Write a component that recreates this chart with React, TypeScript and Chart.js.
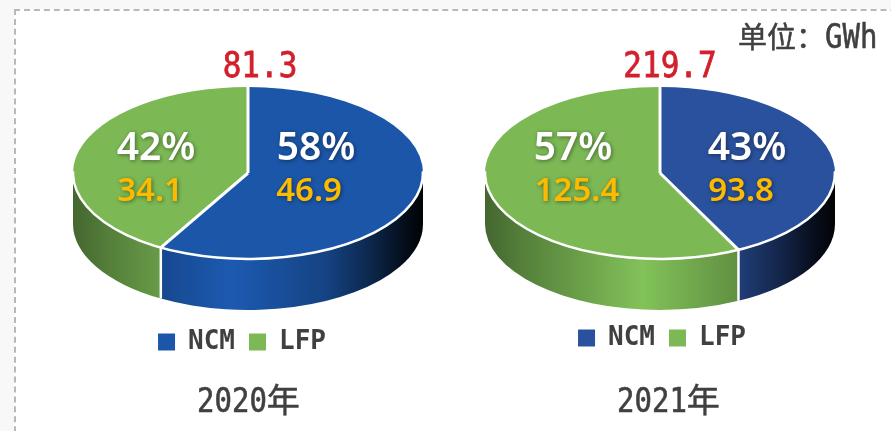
import React, { useEffect, useRef } from "react";
import { Chart, registerables } from "chart.js";

Chart.register(...registerables);

const categories = ["NCM", "LFP"];
const values2020 = [46.9, 34.1];
const values2021 = [93.8, 125.4];
const sliceShares2020 = [58.3, 41.7];
const sliceShares2021 = [42.6, 57.4];
const percents2020 = ["58%", "42%"];
const percents2021 = ["43%", "57%"];
const total2020 = "81.3";
const total2021 = "219.7";
const year2020 = "2020年";
const year2021 = "2021年";
const unitText = "单位：GWh";

const GREEN = "#7cb955";
const LATIN = '"DejaVu Sans Mono"';
const CJK = '"Noto Sans CJK SC"';
const TEXT = "#404040";
const SHADES: [number, number][] = [[0, 0.55], [0.1, 0.68], [0.45, 1.05], [0.72, 0.78], [0.85, 0.45], [0.95, 0.15], [1, 0.04]];

function shade(hex: string, k: number) {
  const n = parseInt(hex.slice(1), 16);
  const c = (v: number) => Math.min(255, Math.round(v * k));
  return `rgb(${c((n >> 16) & 255)},${c((n >> 8) & 255)},${c(n & 255)})`;
}

function drawLatin(ctx: CanvasRenderingContext2D, text: string, x: number, y: number, px: number, color: string, weight: number) {
  ctx.save();
  ctx.translate(x, y);
  ctx.scale(1, 1.14);
  ctx.font = `${px}px ${LATIN}`;
  ctx.fillStyle = color;
  ctx.strokeStyle = color;
  ctx.lineWidth = weight;
  ctx.fillText(text, 0, 0);
  ctx.strokeText(text, 0, 0);
  ctx.restore();
}

function drawRuns(ctx: CanvasRenderingContext2D, text: string, x: number, y: number, latinPx: number, cjkPx: number, color: string) {
  const runs = text.match(/[\u3000-\uffef]+|[^\u3000-\uffef]+/g) || [];
  ctx.textAlign = "left";
  ctx.textBaseline = "alphabetic";
  let px = x;
  for (const r of runs) {
    const isCjk = /[\u3000-\uffef]/.test(r);
    ctx.font = isCjk ? `${cjkPx}px ${CJK}` : `${latinPx}px ${LATIN}`;
    const w = ctx.measureText(r).width;
    if (isCjk) {
      ctx.fillStyle = color;
      ctx.strokeStyle = color;
      ctx.lineWidth = 0.5;
      ctx.fillText(r, px, y);
      ctx.strokeText(r, px, y);
    } else {
      drawLatin(ctx, r, px, y, latinPx, color, 0.5);
    }
    px += w;
  }
}

function Panel({ cfg }: { cfg: any }) {
  const ref = useRef<HTMLCanvasElement>(null);
  useEffect(() => {
    const { cx, cy, rx, ry, depth } = cfg.pie;
    const plugin = {
      id: "pie3d",
      beforeDatasetsDraw(chart: any) {
        const ctx = chart.ctx;
        const arcs = chart.getDatasetMeta(0).data;
        arcs.forEach((a: any, i: number) => {
          const segs: [number, number][] = [[a.startAngle, a.endAngle], [a.startAngle - Math.PI * 2, a.endAngle - Math.PI * 2]];
          for (const [s, e] of segs) {
            const from = Math.max(s, 0);
            const to = Math.min(e, Math.PI);
            if (to <= from) continue;
            const g = ctx.createLinearGradient(cx - rx, 0, cx + rx, 0);
            SHADES.forEach(([p, k]) => g.addColorStop(p, shade(cfg.colors[i], k)));
            ctx.beginPath();
            ctx.ellipse(cx, cy, rx, ry, 0, from, to);
            ctx.ellipse(cx, cy + depth, rx, ry, 0, to, from, true);
            ctx.closePath();
            ctx.fillStyle = g;
            ctx.fill();
          }
        });
        const a = arcs[0];
        ctx.save();
        ctx.translate(cx, cy);
        ctx.scale(rx / a.outerRadius, ry / a.outerRadius);
        ctx.translate(-a.x, -a.y);
      },
      afterDatasetsDraw(chart: any) {
        const ctx = chart.ctx;
        ctx.restore();
        const arcs = chart.getDatasetMeta(0).data;
        ctx.strokeStyle = "#ffffff";
        ctx.lineWidth = 2.5;
        ctx.beginPath();
        ctx.ellipse(cx, cy, rx, ry, 0, -0.02, Math.PI + 0.02);
        ctx.stroke();
        ctx.lineWidth = 3;
        arcs.forEach((a: any) => {
          const px = cx + rx * Math.cos(a.startAngle);
          const py = cy + ry * Math.sin(a.startAngle);
          ctx.beginPath();
          ctx.moveTo(cx, cy);
          ctx.lineTo(px, py);
          ctx.stroke();
          if (Math.sin(a.startAngle) > 0) {
            ctx.lineWidth = 2.5;
            ctx.beginPath();
            ctx.moveTo(px, py);
            ctx.lineTo(px, py + depth);
            ctx.stroke();
            ctx.lineWidth = 3;
          }
        });
        cfg.percents.forEach((p: string, i: number) => {
          const [px, vx] = cfg.labelX[i];
          ctx.save();
          ctx.shadowColor = "rgba(0,0,0,0.45)";
          ctx.shadowBlur = 4;
          ctx.shadowOffsetX = 1;
          ctx.shadowOffsetY = 1;
          ctx.textAlign = "center";
          ctx.textBaseline = "alphabetic";
          ctx.font = '600 39px "Noto Sans"';
          ctx.fillStyle = "#ffffff";
          ctx.fillText(p, px, 160);
          ctx.font = '600 33px "Noto Sans"';
          ctx.fillStyle = "#fdbb00";
          ctx.fillText(String(cfg.values[i]), vx, 201);
          ctx.restore();
        });
        ctx.save();
        ctx.textAlign = "left";
        ctx.textBaseline = "alphabetic";
        ctx.font = `31px ${LATIN}`;
        const tw = ctx.measureText(cfg.total).width;
        drawLatin(ctx, cfg.total, cfg.totalX - tw / 2, 77, 31, "#d2202c", 0.7);
        drawRuns(ctx, cfg.year, cfg.yearX, 412, 29, 33, TEXT);
        if (cfg.unitX) drawRuns(ctx, unitText, cfg.unitX, 48, 29, 29, TEXT);
        ctx.restore();
      },
    };
    const chart = new Chart(ref.current as HTMLCanvasElement, {
      type: "pie",
      data: {
        labels: categories,
        datasets: [{ data: cfg.shares, backgroundColor: cfg.colors, borderWidth: 0, clip: false } as any],
      },
      options: {
        responsive: false,
        animation: false,
        rotation: 0,
        layout: { padding: { bottom: cfg.legendBottom } },
        plugins: {
          tooltip: { enabled: false },
          title: { display: false },
          legend: {
            position: "bottom",
            labels: {
              boxWidth: 17,
              boxHeight: 17,
              padding: 14,
              color: TEXT,
              font: { family: LATIN, size: 26, weight: "bold" },
            },
          },
        },
      } as any,
      plugins: [plugin],
    });
    return () => chart.destroy();
  }, []);
  return (
    <canvas
      ref={ref}
      width={cfg.width}
      height={431}
      style={{ position: "absolute", left: cfg.left, top: 0, width: cfg.width, height: 431 }}
    />
  );
}

const panels = [
  {
    left: 42, width: 400, colors: ["#1b56a9", GREEN], values: values2020, shares: sliceShares2020, percents: percents2020,
    total: total2020, year: year2020, legendBottom: 66,
    pie: { cx: 206, cy: 173, rx: 175, ry: 86, depth: 51 },
    labelX: [[274, 267], [114, 108]], totalX: 218, yearX: 155,
  },
  {
    left: 442, width: 440, colors: ["#2a519d", GREEN], values: values2021, shares: sliceShares2021, percents: percents2021,
    total: total2021, year: year2021, legendBottom: 70,
    pie: { cx: 218, cy: 173, rx: 175, ry: 86, depth: 51 },
    labelX: [[305, 299], [131, 135]], totalX: 228, yearX: 175, unitX: 296,
  },
];

export default function App() {
  return (
    <div style={{ position: "fixed", inset: 0, background: "#f8f8f8", overflow: "hidden" }}>
      <div
        style={{
          position: "absolute", left: 14, top: 9, width: 1000, height: 600,
          background: "#ffffff", borderLeft: "2px dashed #b8b8b8", borderTop: "2px dashed #b8b8b8",
        }}
      />
      {panels.map((p, i) => (
        <Panel key={i} cfg={p} />
      ))}
    </div>
  );
}
